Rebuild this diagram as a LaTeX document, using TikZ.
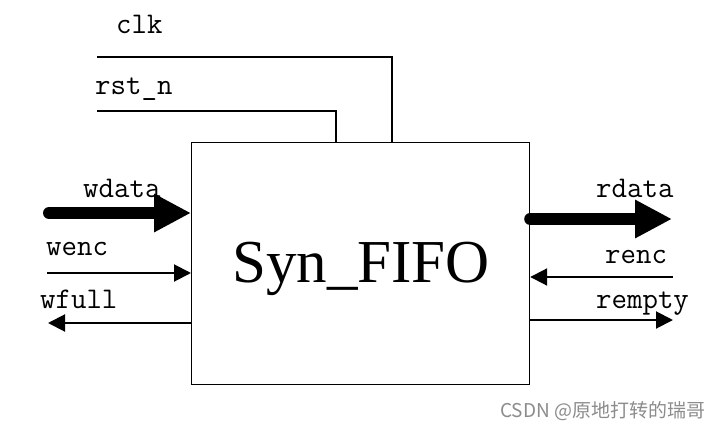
\documentclass[tikz,border=0pt]{standalone}
\usepackage{fontspec}
\setmainfont{Liberation Serif}
\newfontfamily\cjk{Noto Sans CJK SC}
\usetikzlibrary{arrows.meta}
\begin{document}
\begin{tikzpicture}[x=1pt,y=-1pt,
  lbl/.style={font=\ttfamily\fontsize{30}{30}\selectfont, anchor=base west, inner sep=0pt},
  wire/.style={line width=1.8pt},
  bus/.style={line width=12pt, line cap=round, -{Triangle[length=37pt,width=36pt]}},
  sig/.style={line width=2pt, -{Triangle[length=17pt,width=17pt]}},
  blk/.style={draw, line width=1.2pt, minimum width=338pt, minimum height=242pt, inner sep=0pt, anchor=north west}]
\useasboundingbox (0,0) rectangle (726,431);
\fill[white] (0,0) rectangle (726,431);

\node[blk] (fifo) at (191,142) {};
\node[anchor=base west, inner sep=0pt, font=\fontsize{61}{61}\selectfont] (title) at (232,282) {Syn\_FIFO};

% clock and reset
\coordinate (clkS) at (97,57);
\coordinate (rstS) at (97,111);
\draw[wire] (clkS) -| ([xshift=31pt]fifo.north);
\draw[wire] (rstS) -| ([xshift=-25pt]fifo.north);
\node[lbl] (clkL) at (116,33) {clk};
\node[lbl] (rstL) at (95,94) {rst\_n};

% write side
\coordinate (wdS) at (49,213);
\coordinate (weS) at (47,273);
\coordinate (wfE) at (48,323);
\draw[bus] (wdS) -- (wdS -| fifo.west);
\draw[sig] (weS) -- (weS -| fifo.west);
\draw[sig] (wfE -| fifo.west) -- (wfE);
\node[lbl] (wdL) at (83,197) {wdata};
\node[lbl] (weL) at (46,255) {wenc};
\node[lbl] (wfL) at (40,308) {wfull};

% read side
\coordinate (rdE) at (672,219);
\coordinate (reS) at (673,277);
\coordinate (rmE) at (673,320);
\draw[bus] (rdE -| fifo.east) -- (rdE);
\draw[sig] (reS) -- (reS -| fifo.east);
\draw[sig] (rmE -| fifo.east) -- (rmE);
\node[lbl] (rdL) at (596,197) {rdata};
\node[lbl] (reL) at (605,263) {renc};
\node[lbl] (rmL) at (596,308) {rempty};

\node[anchor=west, inner sep=0pt, text=black!45, font=\cjk\fontsize{19}{19}\selectfont] (wm) at (500,411) {CSDN @原地打转的瑞哥};
\end{tikzpicture}
\end{document}
